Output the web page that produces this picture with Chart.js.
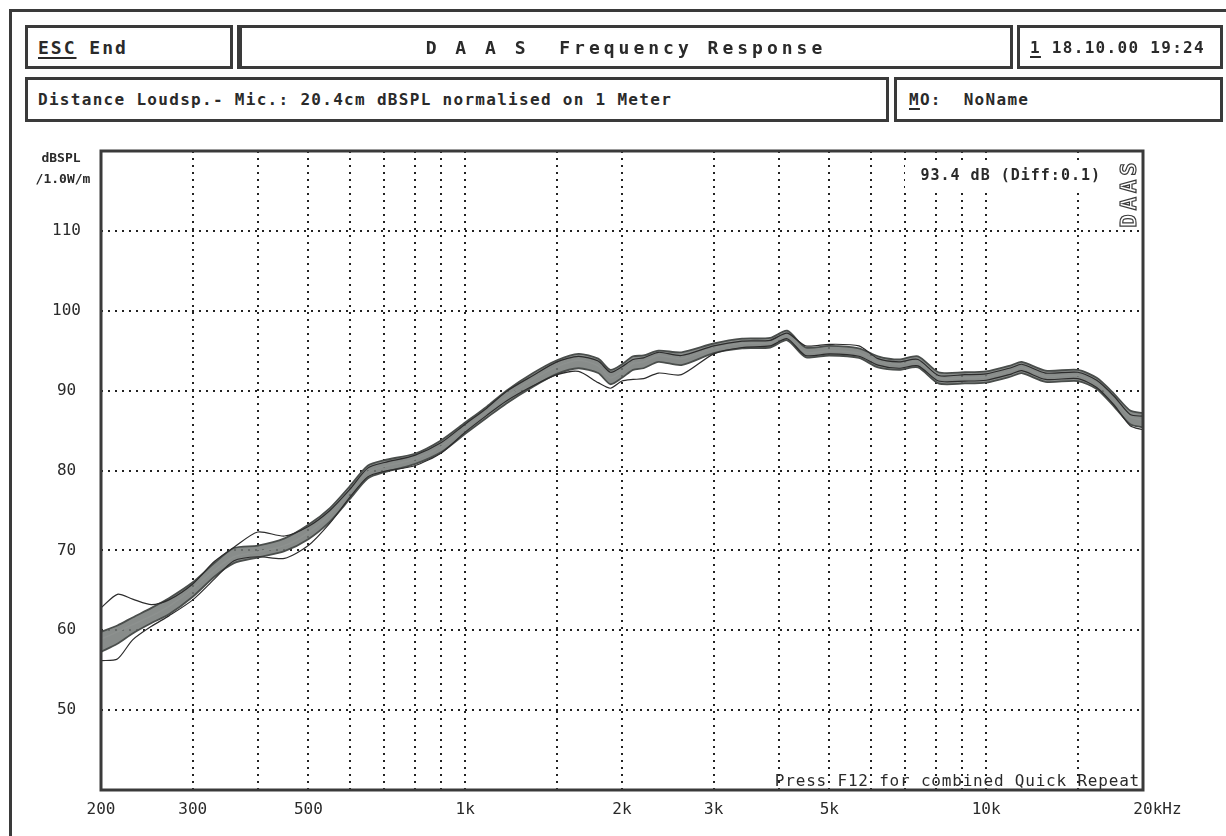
<!DOCTYPE html>
<html>
<head>
<meta charset="utf-8">
<script src="https://cdn.jsdelivr.net/npm/chart.js@4"></script>
<style>
  body { margin: 0; background: #fff; }
  #wrap { position: relative; width: 1226px; height: 836px; overflow: hidden; }
  #grafico { position: absolute; left: 0; top: 0; }
  .frame { position: absolute; background: #3a3a3a; }
  .box { position: absolute; box-sizing: border-box; border: 3px solid #3a3a3a; background: #fff;
         font-family: "DejaVu Sans Mono", monospace; color: #2a2a2a; white-space: pre;
         display: flex; align-items: center; }
  .b1 { font-weight: bold; font-size: 18px; letter-spacing: 2px; }
  .b2 { font-size: 16px; letter-spacing: 1.3px; font-weight: bold; }
  u { text-decoration-thickness: 2px; text-underline-offset: 3px; }
</style>
</head>
<body>
<div id="wrap">
  <canvas id="grafico" width="1226" height="836"></canvas>
  <div class="frame" style="left:9px;top:9px;width:3px;height:827px"></div>
  <div class="frame" style="left:9px;top:9px;width:1217px;height:3px"></div>

  <div class="box b1" style="left:25px;top:25px;width:208px;height:44px;padding-left:10px"><u>ESC</u> End</div>
  <div class="box b1" style="left:237px;top:25px;width:776px;height:44px;justify-content:center;border-left-width:5px;letter-spacing:4px">D A A S  Frequency Response</div>
  <div class="box b2" style="left:1017px;top:25px;width:206px;height:44px;padding-left:10px"><u>1</u> 18.10.00 19:24</div>
  <div class="box b2" style="left:25px;top:77px;width:864px;height:45px;padding-left:10px">Distance Loudsp.- Mic.: 20.4cm dBSPL normalised on 1 Meter</div>
  <div class="box b2" style="left:894px;top:77px;width:329px;height:45px;padding-left:12px"><u>M</u>O:  NoName</div>
</div>
<script>
// frequencies (Hz) and the measured traces (dBSPL)
const frecuencias = [200, 215, 230, 250, 270, 300, 330, 360, 400, 450, 500, 550, 600, 650, 700, 800, 900,
  1000, 1100, 1200, 1350, 1500, 1650, 1800, 1900, 2000, 2100, 2200, 2350, 2600, 3000, 3400, 3850, 4150,
  4500, 5000, 5700, 6200, 6800, 7400, 8100, 9100, 10000, 11200, 11700, 13000, 15000, 16300, 17600, 18900, 20000];

const trazaCentro = [58.9, 59.8, 60.7, 61.8, 63.0, 65.2, 67.5, 69.2, 69.8, 70.6, 72.2, 74.5, 77.2, 79.8, 80.5, 81.4, 83.0,
  85.3, 87.3, 89.2, 91.4, 93.0, 93.8, 93.1, 91.6, 92.4, 93.4, 93.6, 94.4, 94.0, 95.3, 95.9, 96.0, 96.9,
  94.8, 95.0, 94.7, 93.6, 93.3, 93.6, 91.6, 91.6, 91.7, 92.5, 92.9, 91.8, 91.9, 90.9, 88.8, 86.7, 86.3];

const trazaAlta = [59.8, 60.6, 61.6, 62.8, 64.0, 66.0, 68.4, 70.3, 70.6, 71.5, 73.2, 75.3, 78.0, 80.6, 81.3, 82.1, 83.8,
  86.0, 88.0, 90.0, 92.2, 93.8, 94.6, 94.0, 92.6, 93.3, 94.3, 94.4, 95.0, 94.8, 95.9, 96.5, 96.6, 97.5,
  95.4, 95.6, 95.3, 94.3, 93.9, 94.3, 92.3, 92.3, 92.4, 93.2, 93.6, 92.5, 92.6, 91.6, 89.6, 87.5, 87.2];

const trazaBaja = [57.3, 58.3, 59.6, 60.9, 62.0, 64.2, 66.7, 68.4, 69.1, 69.9, 71.4, 73.6, 76.4, 79.0, 79.8, 80.8, 82.3,
  84.6, 86.6, 88.4, 90.5, 92.1, 92.8, 92.2, 90.8, 91.6, 92.6, 92.8, 93.6, 93.2, 94.7, 95.3, 95.4, 96.3,
  94.2, 94.4, 94.1, 92.9, 92.6, 92.9, 90.9, 90.9, 91.0, 91.8, 92.2, 91.1, 91.2, 90.2, 88.0, 85.8, 85.4];

const trazaSuelta1 = [62.8, 64.5, 63.9, 63.2, 63.8, 65.8, 68.6, 70.4, 72.3, 71.8, 73.0, 75.0, 77.6, 80.3, 81.0, 81.9, 83.5,
  85.8, 87.8, 89.9, 91.9, 93.6, 94.3, 93.7, 92.3, 93.0, 93.9, 94.1, 94.8, 94.4, 95.6, 96.2, 96.3, 97.2,
  95.6, 95.8, 95.6, 94.0, 93.6, 93.9, 91.9, 92.0, 92.1, 92.9, 93.3, 92.2, 92.3, 91.3, 89.3, 87.0, 86.8];

const trazaSuelta2 = [56.2, 56.4, 58.8, 60.5, 61.8, 63.8, 66.4, 68.7, 69.2, 69.0, 70.6, 73.4, 76.6, 79.2, 79.9, 80.6, 82.2,
  84.8, 86.9, 88.7, 90.6, 92.0, 92.4, 91.0, 90.3, 91.2, 91.4, 91.5, 92.2, 92.0, 94.6, 95.4, 95.6, 96.5,
  94.4, 94.6, 94.3, 93.2, 92.8, 93.1, 91.2, 91.2, 91.3, 92.1, 92.5, 91.4, 91.5, 90.4, 88.2, 85.6, 85.1];

// grid lines on the frequency axis and the labels shown under them
const lineasFrecuencia = [200, 300, 400, 500, 600, 700, 800, 900, 1000, 1500, 2000, 3000, 4000, 5000,
  6000, 7000, 8000, 9000, 10000, 15000, 20000];
const etiquetasFrecuencia = { 200: '200', 300: '300', 500: '500', 1000: '1k', 2000: '2k', 3000: '3k',
  5000: '5k', 10000: '10k', 20000: '   20kHz' };

const fuente = '"DejaVu Sans Mono", monospace';

function puntos(valores) {
    return frecuencias.map((f, i) => ({ x: f, y: valores[i] }));
}

const textosPlugin = {
    id: 'textos',
    afterDraw(chart) {
        const c = chart.ctx;
        const a = chart.chartArea;
        c.save();

        // text block top right
        c.fillStyle = '#fff';
        c.fillRect(905, 163, 200, 26);
        c.fillStyle = '#2a2a2a';
        c.font = 'bold 15px ' + fuente;
        c.textBaseline = 'middle';
        c.textAlign = 'right';
        c.letterSpacing = '1px';
        c.fillText('93.4 dB (Diff:0.1)', 1101, 176);

        // DAAS vertical logo
        c.translate(a.right - 14, a.top + 42);
        c.rotate(-Math.PI / 2);
        c.letterSpacing = '4px';
        c.font = 'bold 22px ' + fuente;
        c.textAlign = 'center';
        c.strokeStyle = '#3a3a3a';
        c.lineWidth = 1.2;
        c.strokeText('DAAS', 0, 1);
        c.setTransform(1, 0, 0, 1, 0, 0);

        // footer note
        c.letterSpacing = '0.8px';
        c.font = '16px ' + fuente;
        c.textAlign = 'right';
        c.textBaseline = 'alphabetic';
        c.fillText('Press F12 for combined Quick Repeat', a.right - 3, a.bottom - 4);

        // y axis unit
        c.letterSpacing = '0px';
        c.font = 'bold 13px ' + fuente;
        c.textAlign = 'center';
        c.textBaseline = 'middle';
        c.fillText('dBSPL', 61, 159);
        c.fillText('/1.0W/m', 63, 180);

        // thick plot border
        c.strokeStyle = '#3a3a3a';
        c.lineWidth = 3;
        c.strokeRect(a.left, a.top, a.right - a.left, a.bottom - a.top);
        c.restore();
    }
};

const ctx = document.getElementById('grafico').getContext('2d');

new Chart(ctx, {
    type: 'line',
    data: {
        datasets: [
            { label: 'alta', data: puntos(trazaAlta), borderColor: '#4a4e4c', borderWidth: 1.8, order: 2 },
            { label: 'baja', data: puntos(trazaBaja), borderColor: '#4a4e4c', borderWidth: 1.8, order: 2,
              fill: 0, backgroundColor: 'rgba(115,120,117,0.85)' },
            { label: 'centro', data: puntos(trazaCentro), borderColor: '#8d918f', borderWidth: 1.5, order: 1 },
            { label: 'suelta 1', data: puntos(trazaSuelta1), borderColor: '#2c2c2c', borderWidth: 1.2, order: 1 },
            { label: 'suelta 2', data: puntos(trazaSuelta2), borderColor: '#2c2c2c', borderWidth: 1.2, order: 1 }
        ]
    },
    options: {
        responsive: false,
        animation: false,
        elements: { point: { radius: 0 }, line: { tension: 0.25 } },
        layout: { padding: { left: 10, right: 83, top: 151, bottom: 6 } },
        plugins: { legend: { display: false }, tooltip: { enabled: false } },
        scales: {
            x: {
                type: 'logarithmic',
                min: 200,
                max: 20000,
                afterBuildTicks: (scale) => {
                    scale.ticks = lineasFrecuencia.map(v => ({ value: v }));
                },
                afterFit: (scale) => { scale.height = 40; },
                grid: { color: '#222', lineWidth: 2, drawTicks: false },
                border: { display: false, dash: [2, 5] },
                ticks: {
                    autoSkip: false,
                    maxRotation: 0,
                    padding: 10,
                    color: '#2a2a2a',
                    font: { family: fuente, size: 16 },
                    callback: (v) => etiquetasFrecuencia[v] || ''
                }
            },
            y: {
                min: 40,
                max: 120,
                afterFit: (scale) => { scale.width = 91; },
                grid: { color: '#222', lineWidth: 2, drawTicks: false },
                border: { display: false, dash: [2, 5] },
                ticks: {
                    stepSize: 10,
                    crossAlign: 'center',
                    padding: 20,
                    color: '#2a2a2a',
                    font: { family: fuente, size: 16 },
                    callback: (v) => (v === 40 || v === 120) ? '' : v
                }
            }
        }
    },
    plugins: [textosPlugin]
});
</script>
</body>
</html>
